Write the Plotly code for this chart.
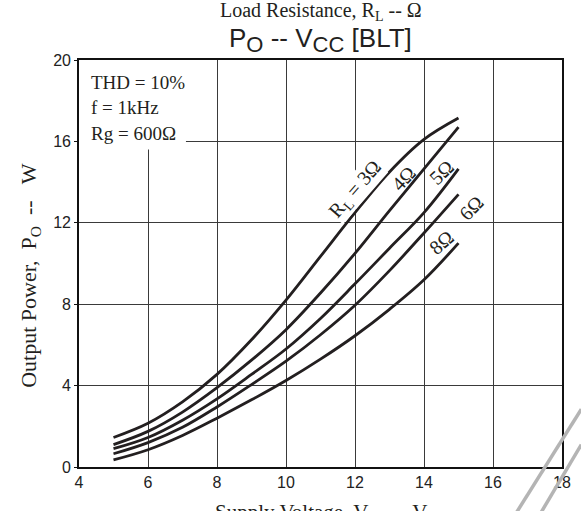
import plotly.graph_objects as go

# Supply voltage sample points (V) shared by all curves
vcc = [5, 6, 7, 8, 9, 10, 11, 12, 13, 14, 15]

# Output power (W) for each load resistance
po_3ohm = [1.45, 2.15, 3.2, 4.55, 6.25, 8.2, 10.35, 12.5, 14.5, 16.1, 17.15]
po_4ohm = [1.1, 1.75, 2.7, 3.9, 5.25, 6.75, 8.55, 10.5, 12.6, 14.65, 16.7]
po_5ohm = [0.9, 1.45, 2.3, 3.35, 4.55, 5.8, 7.3, 9.0, 10.75, 12.5, 14.65]
po_6ohm = [0.65, 1.2, 1.95, 2.95, 4.05, 5.2, 6.5, 7.95, 9.65, 11.5, 13.4]
po_8ohm = [0.35, 0.85, 1.55, 2.4, 3.3, 4.25, 5.3, 6.45, 7.75, 9.2, 11.0]

series = [po_3ohm, po_4ohm, po_5ohm, po_6ohm, po_8ohm]

x_ticks = [4, 6, 8, 10, 12, 14, 16, 18]
y_ticks = [0, 4, 8, 12, 16, 20]

# Curve labels: text, x, y, angle, white backing
curve_labels = [
    ("R<sub>L</sub> = 3Ω", 12.03, 13.62, -49, True),
    ("4Ω", 13.42, 14.2, -47, False),
    ("5Ω", 14.52, 14.5, -43, False),
    ("6Ω", 15.37, 12.72, -45, False),
    ("8Ω", 14.52, 11.05, -40, False),
]

conditions = ["THD = 10%", "f = 1kHz", "Rg = 600Ω"]

SERIF = "Liberation Serif, Times New Roman, serif"
SANS = "Liberation Sans, Arial, sans-serif"
INK = "#231f20"
NB = "\u00a0"

fig = go.Figure()
for ys in series:
    fig.add_trace(go.Scatter(
        x=vcc, y=ys, mode="lines",
        line=dict(color=INK, width=2.8, shape="spline", smoothing=1.0),
        showlegend=False, hoverinfo="skip",
    ))

axis_common = dict(
    showgrid=True, gridcolor="#3a3a3a", gridwidth=1,
    showline=True, linecolor="#111", linewidth=1.6, mirror=True,
    zeroline=False,
    tickfont=dict(family=SANS, size=16, color="#222"),
)

fig.update_xaxes(range=[4, 18], tickvals=x_ticks, ticks="", **axis_common)
fig.update_yaxes(range=[0, 20], tickvals=y_ticks, ticks="outside", ticklen=3,
                 tickcolor="#111", **axis_common)

# white panel behind the test-condition text
fig.add_shape(type="rect", xref="x", yref="y", x0=4, x1=7.1, y0=15.6, y1=20,
              fillcolor="white", line=dict(width=0), layer="between")

annotations = []
for i, txt in enumerate(conditions):
    annotations.append(dict(
        text=txt, xref="paper", yref="paper", x=0.02, y=0.945 - i * 0.0625,
        xanchor="left", yanchor="middle", showarrow=False,
        font=dict(family=SERIF, size=19, color=INK),
    ))

for txt, lx, ly, ang, backed in curve_labels:
    annotations.append(dict(
        text=txt, xref="x", yref="y", x=lx, y=ly, textangle=ang,
        showarrow=False, bgcolor="white" if backed else None, borderpad=0,
        font=dict(family=SERIF, size=20, color=INK),
    ))

sub_big = "<sub><span style='font-size:22px'>{}</span></sub>"

annotations += [
    dict(text="Load Resistance, R<sub>L</sub> -- Ω", xref="paper", yref="paper",
         x=0.5, y=1.119, xanchor="center", yanchor="middle", showarrow=False,
         font=dict(family=SERIF, size=20, color=INK)),
    dict(text="P" + sub_big.format("O") + " -- V" + sub_big.format("CC") + " [BLT]",
         xref="paper", yref="paper",
         x=0.5, y=1.05, xanchor="center", yanchor="middle", showarrow=False,
         font=dict(family=SANS, size=26, color=INK)),
    dict(text="Supply Voltage, V<sub>CC</sub> -- V", xref="paper", yref="paper",
         x=0.5, y=-0.077, xanchor="center", yanchor="top", showarrow=False,
         font=dict(family=SERIF, size=21, color=INK)),
    dict(text="Output Power," + NB + " P<sub>O</sub>" + NB + " --" + NB + NB + " W",
         xref="paper", yref="paper",
         x=-0.1016, y=0.472, xanchor="center", yanchor="middle", showarrow=False,
         textangle=-90, font=dict(family=SERIF, size=22, color=INK)),
]

# faint diagonal strokes at the lower right corner
for (x0, y0, x1, y1) in [(0.893, -0.136, 1.04, 0.142), (0.945, -0.135, 1.04, 0.055)]:
    fig.add_shape(type="line", xref="paper", yref="paper", x0=x0, y0=y0, x1=x1, y1=y1,
                  line=dict(color="#b4b4b4", width=3.5), layer="above")

fig.update_layout(
    width=581, height=511,
    margin=dict(l=79, r=10, t=60, b=44),
    paper_bgcolor="white", plot_bgcolor="white",
    annotations=annotations,
)

fig.write_html("out.html")
